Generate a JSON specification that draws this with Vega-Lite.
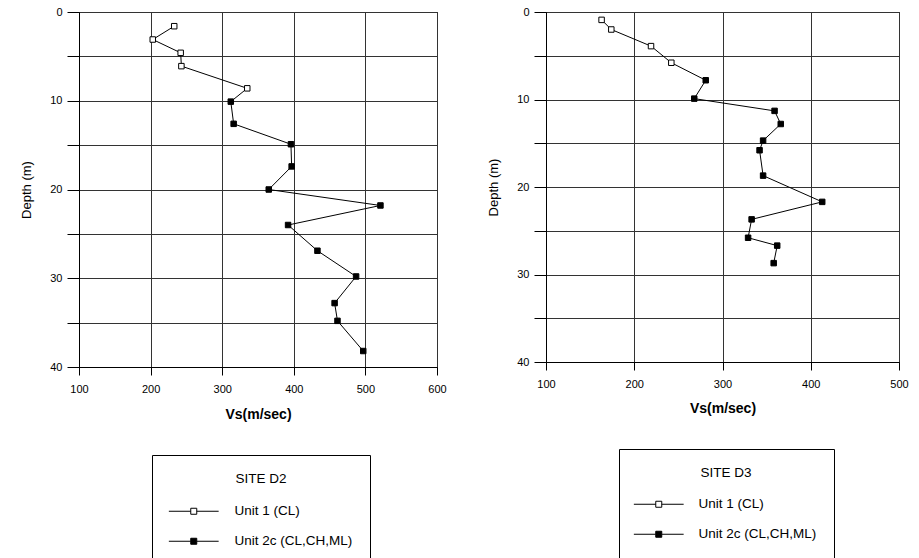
{
  "$schema": "https://vega.github.io/schema/vega-lite/v6.json",
  "background": "white",
  "padding": {"left": 20, "top": 5, "right": 5, "bottom": 5},
  "config": {
    "font": "Liberation Sans",
    "view": {"stroke": "black", "strokeWidth": 1},
    "axis": {
      "labelFont": "Liberation Sans", "labelFontSize": 11, "labelColor": "black",
      "domainColor": "black", "tickColor": "black", "gridColor": "#333", "gridWidth": 1,
      "titleColor": "black", "titleFont": "Liberation Sans", "labelFlush": false
    }
  },
  "datasets": {
    "d2": [
      {"unit": "Unit 1 (CL)", "depth": 1.6, "vs": 233},
      {"unit": "Unit 1 (CL)", "depth": 3.1, "vs": 203},
      {"unit": "Unit 1 (CL)", "depth": 4.6, "vs": 242},
      {"unit": "Unit 1 (CL)", "depth": 6.1, "vs": 243},
      {"unit": "Unit 1 (CL)", "depth": 8.6, "vs": 335},
      {"unit": "Unit 2c (CL,CH,ML)", "depth": 10.1, "vs": 312},
      {"unit": "Unit 2c (CL,CH,ML)", "depth": 12.6, "vs": 316},
      {"unit": "Unit 2c (CL,CH,ML)", "depth": 14.9, "vs": 396},
      {"unit": "Unit 2c (CL,CH,ML)", "depth": 17.4, "vs": 397},
      {"unit": "Unit 2c (CL,CH,ML)", "depth": 20.0, "vs": 365},
      {"unit": "Unit 2c (CL,CH,ML)", "depth": 21.8, "vs": 521},
      {"unit": "Unit 2c (CL,CH,ML)", "depth": 24.0, "vs": 392},
      {"unit": "Unit 2c (CL,CH,ML)", "depth": 26.9, "vs": 433},
      {"unit": "Unit 2c (CL,CH,ML)", "depth": 29.8, "vs": 487},
      {"unit": "Unit 2c (CL,CH,ML)", "depth": 32.8, "vs": 457},
      {"unit": "Unit 2c (CL,CH,ML)", "depth": 34.8, "vs": 461},
      {"unit": "Unit 2c (CL,CH,ML)", "depth": 38.2, "vs": 497}
    ],
    "d3": [
      {"unit": "Unit 1 (CL)", "depth": 0.9, "vs": 163},
      {"unit": "Unit 1 (CL)", "depth": 2.0, "vs": 174},
      {"unit": "Unit 1 (CL)", "depth": 3.9, "vs": 219},
      {"unit": "Unit 1 (CL)", "depth": 5.8, "vs": 242},
      {"unit": "Unit 2c (CL,CH,ML)", "depth": 7.8, "vs": 281},
      {"unit": "Unit 2c (CL,CH,ML)", "depth": 9.9, "vs": 268},
      {"unit": "Unit 2c (CL,CH,ML)", "depth": 11.3, "vs": 359},
      {"unit": "Unit 2c (CL,CH,ML)", "depth": 12.8, "vs": 366},
      {"unit": "Unit 2c (CL,CH,ML)", "depth": 14.7, "vs": 346},
      {"unit": "Unit 2c (CL,CH,ML)", "depth": 15.8, "vs": 342},
      {"unit": "Unit 2c (CL,CH,ML)", "depth": 18.7, "vs": 346},
      {"unit": "Unit 2c (CL,CH,ML)", "depth": 21.7, "vs": 413},
      {"unit": "Unit 2c (CL,CH,ML)", "depth": 23.7, "vs": 333},
      {"unit": "Unit 2c (CL,CH,ML)", "depth": 25.8, "vs": 329},
      {"unit": "Unit 2c (CL,CH,ML)", "depth": 26.7, "vs": 362},
      {"unit": "Unit 2c (CL,CH,ML)", "depth": 28.7, "vs": 358}
    ]
  },
  "spacing": 40,
  "resolve": {"scale": {"fill": "independent"}, "legend": {"fill": "independent"}},
  "hconcat": [
    {
      "width": 358, "height": 355,
      "data": {"name": "d2"},
      "layer": [
        {
          "mark": {"type": "line", "color": "black", "strokeWidth": 1},
          "encoding": {
            "x": {"field": "vs", "type": "quantitative", "scale": {"domain": [100, 600], "nice": false, "zero": false},
              "axis": {"title": "Vs(m/sec)", "values": [100, 200, 300, 400, 500, 600], "tickSize": 8, "labelPadding": 8, "titlePadding": 13, "titleFontSize": 14, "titleFontWeight": "bold"}},
            "y": {"field": "depth", "type": "quantitative", "scale": {"domain": [0, 40], "reverse": true, "nice": false, "zero": false},
              "axis": {"title": "Depth (m)", "values": [0, 5, 10, 15, 20, 25, 30, 35, 40], "labelExpr": "datum.value % 10 === 0 ? datum.label : ''", "tickSize": 12, "labelPadding": 5, "titlePadding": 16, "titleFontSize": 13, "titleFontWeight": "normal"}},
            "order": {"field": "depth", "type": "quantitative"}
          }
        },
        {
          "mark": {"type": "point", "shape": "square", "filled": true, "size": 30, "stroke": "black", "strokeWidth": 1, "opacity": 1},
          "encoding": {
            "x": {"field": "vs", "type": "quantitative"},
            "y": {"field": "depth", "type": "quantitative"},
            "fill": {"field": "unit", "type": "nominal",
              "scale": {"domain": ["Unit 1 (CL)", "Unit 2c (CL,CH,ML)"], "range": ["white", "black"]},
              "legend": {"orient": "none", "legendX": 73, "legendY": 443, "title": "SITE D2", "direction": "vertical",
                "symbolType": "M-8.3,0H-1M1,0H8.3M-1,-1H1V1H-1Z", "symbolSize": 36, "symbolStrokeColor": "black", "symbolStrokeWidth": 1,
                "symbolOffset": 18, "labelOffset": 34, "padding": 17, "strokeColor": "black", "fillColor": "white",
                "titleAnchor": "middle", "titleFontSize": 13.5, "titleFontWeight": "normal", "titleColor": "black", "titlePadding": 19,
                "labelFontSize": 13.5, "labelColor": "black", "rowPadding": 15, "labelLimit": 300}}
          }
        }
      ]
    },
    {
      "width": 353, "height": 350,
      "data": {"name": "d3"},
      "layer": [
        {
          "mark": {"type": "line", "color": "black", "strokeWidth": 1},
          "encoding": {
            "x": {"field": "vs", "type": "quantitative", "scale": {"domain": [100, 500], "nice": false, "zero": false},
              "axis": {"title": "Vs(m/sec)", "values": [100, 200, 300, 400, 500], "tickSize": 8, "labelPadding": 8, "titlePadding": 12, "titleFontSize": 14, "titleFontWeight": "bold"}},
            "y": {"field": "depth", "type": "quantitative", "scale": {"domain": [0, 40], "reverse": true, "nice": false, "zero": false},
              "axis": {"title": "Depth (m)", "values": [0, 5, 10, 15, 20, 25, 30, 35, 40], "labelExpr": "datum.value % 10 === 0 ? datum.label : ''", "tickSize": 12, "labelPadding": 5, "titlePadding": 16, "titleFontSize": 13, "titleFontWeight": "normal"}},
            "order": {"field": "depth", "type": "quantitative"}
          }
        },
        {
          "mark": {"type": "point", "shape": "square", "filled": true, "size": 30, "stroke": "black", "strokeWidth": 1, "opacity": 1},
          "encoding": {
            "x": {"field": "vs", "type": "quantitative"},
            "y": {"field": "depth", "type": "quantitative"},
            "fill": {"field": "unit", "type": "nominal",
              "scale": {"domain": ["Unit 1 (CL)", "Unit 2c (CL,CH,ML)"], "range": ["white", "black"]},
              "legend": {"orient": "none", "legendX": 73, "legendY": 437, "title": "SITE D3", "direction": "vertical",
                "symbolType": "M-8.3,0H-1M1,0H8.3M-1,-1H1V1H-1Z", "symbolSize": 36, "symbolStrokeColor": "black", "symbolStrokeWidth": 1,
                "symbolOffset": 16, "labelOffset": 33, "padding": 17, "strokeColor": "black", "fillColor": "white",
                "titleAnchor": "middle", "titleFontSize": 13.5, "titleFontWeight": "normal", "titleColor": "black", "titlePadding": 18,
                "labelFontSize": 13.5, "labelColor": "black", "rowPadding": 15, "labelLimit": 300}}
          }
        }
      ]
    }
  ]
}
